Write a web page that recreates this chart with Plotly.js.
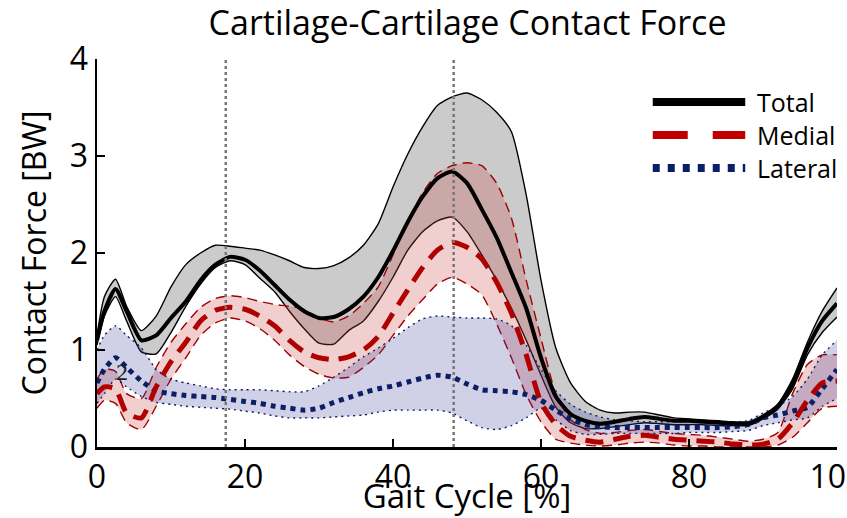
<!DOCTYPE html>
<html>
<head>
<meta charset="utf-8">
<script src="https://cdn.plot.ly/plotly-3.0.1.min.js"></script>
<style>html,body{margin:0;padding:0;background:#fff;}#chart{width:847px;height:518px;}</style>
</head>
<body>
<div id="chart"></div>
<script>
// Gait cycle [%]
const gait = [0,1,2.5,4,6,8,10,12,14,16,18,20,22,24,26,28,30,32,34,36,38,40,42,44,46,48,50,52,54,56,58,60,62,64,66,68,70,72,74,76,78,80,82,84,86,88,90,92,94,96,98,100];

// Total contact force [BW]
const totalMean  = [1.10,1.40,1.63,1.40,1.10,1.15,1.33,1.50,1.72,1.88,1.96,1.93,1.82,1.67,1.52,1.40,1.33,1.34,1.42,1.55,1.75,2.02,2.32,2.58,2.77,2.84,2.72,2.45,2.16,1.80,1.43,0.92,0.52,0.34,0.27,0.24,0.26,0.29,0.31,0.29,0.27,0.27,0.26,0.25,0.24,0.24,0.31,0.42,0.65,1.02,1.30,1.48];
const totalUpper = [1.15,1.55,1.73,1.45,1.20,1.35,1.65,1.88,2.00,2.08,2.07,2.05,2.03,1.98,1.92,1.85,1.84,1.87,1.95,2.08,2.30,2.68,3.02,3.30,3.52,3.61,3.65,3.58,3.45,3.25,2.60,1.72,1.02,0.66,0.47,0.38,0.35,0.36,0.36,0.33,0.30,0.29,0.28,0.27,0.26,0.26,0.33,0.44,0.70,1.08,1.40,1.64];
const totalLower = [1.05,1.35,1.55,1.30,0.98,0.96,1.18,1.45,1.68,1.85,1.92,1.88,1.74,1.60,1.40,1.22,1.07,1.06,1.20,1.30,1.50,1.75,2.03,2.22,2.33,2.37,2.22,1.98,1.72,1.43,1.10,0.74,0.41,0.25,0.19,0.19,0.21,0.23,0.25,0.24,0.23,0.23,0.23,0.22,0.22,0.22,0.29,0.39,0.60,0.95,1.18,1.34];

// Medial contact force [BW]
const medialMean  = [0.55,0.62,0.60,0.35,0.30,0.62,0.88,1.08,1.30,1.41,1.44,1.42,1.35,1.25,1.10,0.98,0.92,0.90,0.93,1.00,1.14,1.38,1.62,1.85,2.03,2.11,2.06,1.94,1.70,1.38,0.95,0.46,0.23,0.11,0.07,0.05,0.08,0.11,0.12,0.10,0.08,0.07,0.06,0.05,0.03,0.02,0.03,0.08,0.25,0.48,0.66,0.68];
const medialUpper = [0.70,0.80,0.78,0.55,0.50,0.82,1.08,1.27,1.44,1.53,1.56,1.54,1.50,1.47,1.45,1.42,1.33,1.29,1.35,1.48,1.65,1.98,2.33,2.62,2.82,2.90,2.93,2.90,2.72,2.36,1.72,1.12,0.55,0.28,0.18,0.14,0.15,0.17,0.18,0.16,0.14,0.13,0.12,0.10,0.08,0.06,0.08,0.15,0.55,0.85,0.95,0.95];
const medialLower = [0.40,0.48,0.45,0.25,0.18,0.42,0.70,0.92,1.15,1.28,1.33,1.30,1.22,1.10,0.95,0.83,0.75,0.71,0.72,0.82,0.95,1.15,1.35,1.52,1.68,1.75,1.68,1.57,1.27,0.92,0.54,0.26,0.08,0.04,0.02,0.01,0.02,0.04,0.05,0.04,0.02,0.01,0.01,0.00,0.00,0.00,0.00,0.02,0.10,0.25,0.40,0.42];

// Lateral contact force [BW]
const lateralMean  = [0.66,0.80,0.92,0.82,0.68,0.58,0.55,0.53,0.52,0.51,0.49,0.47,0.45,0.42,0.40,0.38,0.40,0.46,0.51,0.56,0.60,0.63,0.67,0.71,0.74,0.72,0.65,0.59,0.58,0.57,0.54,0.48,0.38,0.29,0.23,0.21,0.20,0.20,0.20,0.20,0.20,0.20,0.20,0.20,0.21,0.23,0.30,0.33,0.37,0.41,0.60,0.80];
const lateralUpper = [1.00,1.15,1.25,1.15,1.02,0.80,0.70,0.66,0.63,0.60,0.59,0.59,0.59,0.58,0.57,0.57,0.63,0.72,0.82,0.93,1.02,1.12,1.23,1.32,1.35,1.34,1.33,1.33,1.32,1.25,1.05,0.80,0.58,0.44,0.36,0.31,0.28,0.27,0.26,0.26,0.26,0.26,0.26,0.26,0.26,0.27,0.35,0.42,0.52,0.70,0.95,1.10];
const lateralLower = [0.45,0.55,0.70,0.62,0.52,0.46,0.44,0.42,0.41,0.40,0.39,0.37,0.35,0.32,0.30,0.30,0.30,0.31,0.32,0.33,0.36,0.38,0.38,0.38,0.38,0.35,0.27,0.20,0.18,0.22,0.30,0.40,0.28,0.17,0.13,0.13,0.14,0.14,0.14,0.14,0.14,0.15,0.15,0.15,0.16,0.17,0.22,0.25,0.28,0.30,0.42,0.50];

// Gait events (vertical dotted lines) [%]
const events = [17.4, 48.2];

const legendNames = ['Total', 'Medial', 'Lateral'];
const xTicks = [0, 20, 40, 60, 80, 100];
const yTicks = [0, 1, 2, 3, 4];

const FONT = 'Open Sans, Noto Sans, sans-serif';
const C_TOT = '#000000', C_MED = '#b00000', C_LAT = '#0a1f66';

function band(lower, upper, lineColor, dash, fill) {
  return [
    {x: gait, y: lower, mode: 'lines', line: {color: lineColor, width: 1.4, dash: dash, shape: 'spline', smoothing: 0.6}, hoverinfo: 'skip', showlegend: false},
    {x: gait, y: upper, mode: 'lines', fill: 'tonexty', fillcolor: fill, line: {color: lineColor, width: 1.4, dash: dash, shape: 'spline', smoothing: 0.6}, hoverinfo: 'skip', showlegend: false}
  ];
}

const traces = [].concat(
  band(totalLower, totalUpper, C_TOT, 'solid', 'rgba(110,110,110,0.36)'),
  band(medialLower, medialUpper, '#a00000', '10px,6px', 'rgba(200,70,70,0.26)'),
  band(lateralLower, lateralUpper, C_LAT, '2px,4px', 'rgba(60,60,150,0.24)'),
  [
    {x: gait, y: lateralMean, name: legendNames[2], mode: 'lines', line: {color: C_LAT, width: 5, dash: '5px,5px', shape: 'spline', smoothing: 0.6}, showlegend: false},
    {x: gait, y: medialMean, name: legendNames[1], mode: 'lines', line: {color: C_MED, width: 5, dash: '18px,10px', shape: 'spline', smoothing: 0.6}, showlegend: false},
    {x: gait, y: totalMean, name: legendNames[0], mode: 'lines', line: {color: C_TOT, width: 4, shape: 'spline', smoothing: 0.6}, showlegend: false}
  ]
);

const shapes = events.map(e => ({type: 'line', xref: 'x', yref: 'y', x0: e, x1: e, y0: 0, y1: 4, line: {color: '#777777', width: 2.5, dash: '3px,3px'}, layer: 'above'}));

// manual legend
const legY = [0.889, 0.804, 0.719];
const legStyles = [
  {color: C_TOT, width: 8, dash: 'solid'},
  {color: '#c00000', width: 8, dash: '35px,25px'},
  {color: C_LAT, width: 8, dash: '7px,8px'}
];
legendNames.forEach((n, i) => {
  shapes.push({type: 'line', xref: 'paper', yref: 'paper', x0: 0.751, x1: 0.876, y0: legY[i], y1: legY[i], line: legStyles[i]});
});
const annotations = legendNames.map((n, i) => ({xref: 'paper', yref: 'paper', x: 0.889, y: legY[i], xanchor: 'left', yanchor: 'middle', text: n, showarrow: false, font: {family: FONT, size: 25, color: '#000'}}));
annotations.push({xref: 'x', yref: 'y', x: 3.4, y: 0.77, text: '2', showarrow: false, font: {family: 'Liberation Serif, serif', size: 24, color: '#222'}});

const layout = {
  width: 847, height: 518,
  margin: {l: 97, r: 10, t: 59, b: 71},
  paper_bgcolor: '#fff', plot_bgcolor: '#fff',
  showlegend: false,
  title: {text: 'Cartilage-Cartilage Contact Force', x: 0.552, xanchor: 'center', y: 0.955, yanchor: 'middle', font: {family: FONT, size: 34, color: '#000'}},
  xaxis: {range: [0, 100], tickvals: xTicks, ticktext: xTicks.map(String), ticks: 'inside', ticklen: 8, tickwidth: 1.2, tickcolor: '#000',
          showline: true, linecolor: '#000', linewidth: 2.5, showgrid: false, zeroline: false, ticklabeloverflow: 'allow',
          tickfont: {family: FONT, size: 32, color: '#000'},
          title: {text: 'Gait Cycle [%]', font: {family: FONT, size: 33, color: '#000'}, standoff: 0}},
  yaxis: {range: [0, 4], tickvals: yTicks, ticktext: yTicks.map(String), ticks: 'inside', ticklen: 8, tickwidth: 1.2, tickcolor: '#000',
          showline: true, linecolor: '#000', linewidth: 2.5, showgrid: false, zeroline: false, ticklabeloverflow: 'allow',
          tickfont: {family: FONT, size: 32, color: '#000'},
          title: {text: 'Contact Force [BW]', font: {family: FONT, size: 32, color: '#000'}, standoff: 14}},
  shapes: shapes,
  annotations: annotations
};

Plotly.newPlot('chart', traces, layout, {displayModeBar: false, staticPlot: true});
</script>
</body>
</html>
